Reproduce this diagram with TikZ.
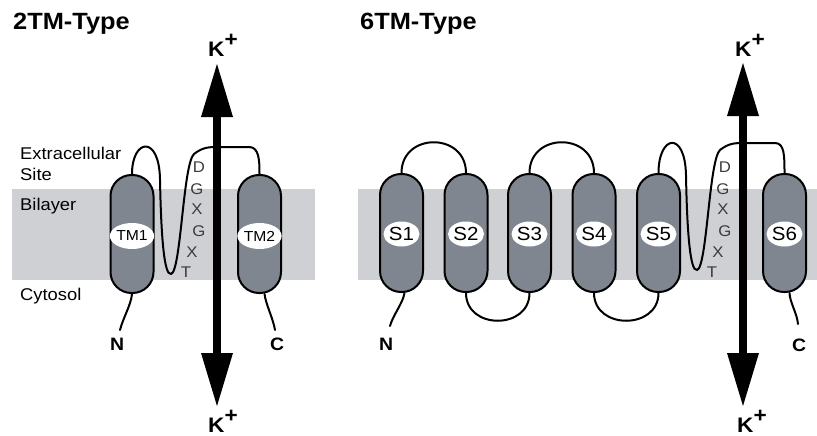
\documentclass[tikz,border=0pt]{standalone}
\usepackage{fontspec}
\setmainfont[FakeStretch=1.08]{Liberation Sans}
\usetikzlibrary{arrows.meta,shapes.geometric}
\definecolor{helixc}{HTML}{7F868F}
\definecolor{bandc}{HTML}{CFD0D4}
\definecolor{motifc}{HTML}{3A3A3A}
\begin{document}
\begin{tikzpicture}[x=1pt,y=-1pt,
  helixbox/.style={draw=black,line width=2pt,fill=helixc,rounded corners=21pt,
    minimum width=43pt,minimum height=118pt,inner sep=0pt},
  tagS/.style={ellipse,fill=white,inner sep=0pt,minimum width=36pt,minimum height=25pt,
    font=\fontsize{19}{19}\selectfont},
  tagTM/.style={ellipse,fill=white,inner sep=0pt,minimum width=38pt,minimum height=26pt,
    font=\fontsize{14.5}{14.5}\selectfont},
  loopline/.style={line width=2pt,line cap=round,line join=round},
  tail/.style={line width=2pt,line cap=round},
  plain/.style={anchor=base west,inner sep=0pt,font=\fontsize{17}{17}\selectfont},
  titletext/.style={anchor=base west,inner sep=0pt,font=\bfseries\fontsize{23.5}{23.5}\selectfont},
  termtext/.style={anchor=base west,inner sep=0pt,font=\bfseries\fontsize{18}{18}\selectfont},
  ktext/.style={anchor=base west,inner sep=0pt,font=\bfseries\fontsize{21}{21}\selectfont},
  motif/.style={inner sep=0pt,text=motifc,font=\fontsize{15.5}{15.5}\selectfont},
  karrow/.style={line width=7.5pt,
    {Triangle[width=32pt,length=53pt,line width=0pt]}-{Triangle[width=32pt,length=53pt,line width=0pt]}}
]
\useasboundingbox (0,0) rectangle (817,436);
% membrane bands
\fill[bandc] (12,189) rectangle (315,280);
\fill[bandc] (358,189) rectangle (817,280);

% titles and side labels
\node[titletext] (t2) at (13,30) {2TM-Type};
\node[titletext] (t6) at (360,30) {6TM-Type};
\node[plain] (ex) at (20,159) {Extracellular};
\node[plain] (si) at (20,180) {Site};
\node[plain] (bi) at (20,210) {Bilayer};
\node[plain] (cy) at (20,300) {Cytosol};

% 2TM helices
\node[helixbox] (tm1) at (132,234) {};
\node[helixbox] (tm2) at (259.5,234) {};
\node[tagTM] (tm1l) at (132,236) {TM1};
\node[tagTM] (tm2l) at (259.5,236) {TM2};

% 6TM helices
\node[helixbox] (s1) at (401.5,233) {};
\node[helixbox] (s2) at (466,233) {};
\node[helixbox] (s3) at (529.5,233) {};
\node[helixbox] (s4) at (594,233) {};
\node[helixbox] (s5) at (658.5,233) {};
\node[helixbox] (s6) at (784.5,233) {};
\node[tagS] (s1l) at (401.5,234) {S1};
\node[tagS] (s2l) at (466,234) {S2};
\node[tagS] (s3l) at (529.5,234) {S3};
\node[tagS] (s4l) at (594,234) {S4};
\node[tagS] (s5l) at (658.5,234) {S5};
\node[tagS] (s6l) at (784.5,234) {S6};

% termini labels
\node[termtext] (n1) at (110,350) {N};
\node[termtext] (c1) at (270,350) {C};
\node[termtext] (n2) at (379,350) {N};
\node[termtext] (c2) at (792,351) {C};

% tails
\draw[tail] (tm1.south) .. controls (131,305) and (123,318) .. (120,330);
\draw[tail] ([xshift=5pt]tm2.south) .. controls (266,305) and (273,318) .. (275,330);
\draw[tail] ([xshift=3pt]s1.south) .. controls (403,303) and (393,315) .. (390,326);
\draw[tail] ([xshift=5pt]s6.south) .. controls (790,303) and (797,313) .. (798,324);

% 6TM loops
\draw[loopline] (s1.north) .. controls (401.5,132) and (466,132) .. (s2.north);
\draw[loopline] (s3.north) .. controls (529.5,132) and (594,132) .. (s4.north);
\draw[loopline] (s2.south) .. controls (466,330) and (529.5,330) .. (s3.south);
\draw[loopline] (s4.south) .. controls (594,330) and (658.5,330) .. (s5.south);

% pore loops
\draw[loopline] (tm1.north) .. controls (132,139) and (159,134) .. (160,179)
  .. controls (161,234) and (164,276) .. (171,274)
  .. controls (181,272) and (183,164) .. (194,154)
  .. controls (203,147) and (209,147) .. (219,147)
  -- (249,147) .. controls (259,147) and (259.5,160) .. (tm2.north);
\draw[loopline] (s5.north) .. controls (658.5,135) and (685,130) .. (686,175)
  .. controls (687,230) and (690,272) .. (697,270)
  .. controls (707,268) and (709,160) .. (720,150)
  .. controls (729,143) and (735,143) .. (745,143)
  -- (775,143) .. controls (784.5,143) and (784.5,156) .. (s6.north);

% selectivity filter letters
\node[motif] (d1) at (199,167) {D};
\node[motif] (g1) at (197,189) {G};
\node[motif] (x1) at (197,209) {X};
\node[motif] (g2) at (199,231) {G};
\node[motif] (x2) at (192,252) {X};
\node[motif] (tt1) at (186,272) {T};
\node[motif] (d2) at (725,167) {D};
\node[motif] (g3) at (723,189) {G};
\node[motif] (x3) at (723,209) {X};
\node[motif] (g4) at (725,231) {G};
\node[motif] (x4) at (718,252) {X};
\node[motif] (tt2) at (712,272) {T};

% K+ arrows
\node[ktext] (k1t) at (208,57) {K\raisebox{10pt}{+}};
\node[ktext] (k1b) at (208,432) {K\raisebox{10pt}{+}};
\node[ktext] (k2t) at (735,57) {K\raisebox{10pt}{+}};
\node[ktext] (k2b) at (737,432) {K\raisebox{10pt}{+}};
\coordinate (a1s) at (217,64);
\coordinate (a1e) at (217,406);
\coordinate (a2s) at (743,63);
\coordinate (a2e) at (743,406);
\draw[karrow] (a1s) -- (a1e);
\draw[karrow] (a2s) -- (a2e);
\end{tikzpicture}
\end{document}
